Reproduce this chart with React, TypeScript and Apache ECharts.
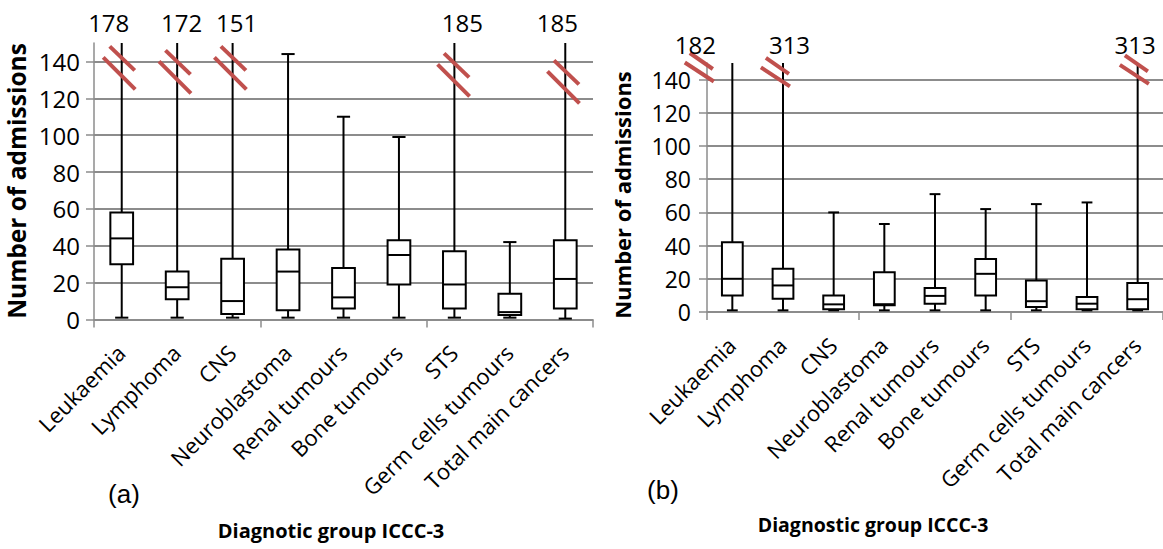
import React, { useEffect, useRef } from "react";
import * as echarts from "echarts";

const categories = [
  "Leukaemia",
  "Lymphoma",
  "CNS",
  "Neuroblastoma",
  "Renal tumours",
  "Bone tumours",
  "STS",
  "Germ cells tumours",
  "Total main cancers",
];

const AXIS_MAX = 150;
const AXIS_INTERVAL = 20;

// Panel (a)
const minA = [1, 1, 1, 1, 1, 1, 1, 1, 0.5];
const q1A = [30, 11, 3, 5, 6, 19, 6, 2.4, 6];
const medA = [44, 17.5, 10, 26, 12, 35, 19, 4, 22];
const q3A = [58, 26, 33, 38, 28, 43, 37, 14, 43];
const maxA = [178, 172, 151, 144, 110, 99, 185, 42, 185];
// where the axis break marks sit (data units), null = no break
const breakA = [137.6, 135.4, 137.6, null, null, null, 133.8, null, 130];

// Panel (b)
const minB = [1, 1, 1, 1, 1, 1, 1, 1, 1];
const q1B = [10, 8, 1.6, 4, 5, 10, 3, 1.6, 1.6];
const medB = [20, 16, 4.6, 4.7, 9.7, 23, 6.5, 5, 7.7];
const q3B = [42, 26, 10, 24, 14.5, 32, 19, 9, 17.5];
const maxB = [182, 313, 60, 53, 71, 62, 65, 66, 313];
const breakB = [147.9, 145, null, null, null, null, null, null, 146.5];

// layout-only tweaks (pixels)
const labelShiftA = [-13, 4.5, 4, 0, 0, 0, 8, 0, -8];
const labelShiftB = [-37, 6.5, 0, 0, 0, 0, 0, 0, -2.5];
const breakShiftA = [-1, -0.7, -0.7, 0, 0, 0, 0.7, 0, -0.3];
const breakShiftB = [-32, -6.6, 0, 0, 0, 0, 0, 0, -2.3];

const FONT = "'Open Sans', 'Noto Sans', sans-serif";
const GRID_COLOR = "#8c8c8c";
const BREAK_COLOR = "#c0504d";

type SlashGeom = {
  lowHalf: [number, number];
  lowOff: [number, number];
  upHalf: [number, number];
  upOff: [number, number];
};

const slashA: SlashGeom = {
  lowHalf: [16, 16],
  lowOff: [-1.5, 7.5],
  upHalf: [12.5, 12],
  upOff: [1.5, -7.5],
};
const slashB: SlashGeom = {
  lowHalf: [14.5, 9.5],
  lowOff: [-1, 5.5],
  upHalf: [11.5, 8],
  upOff: [1, -5.5],
};

function makeRenderItem(
  breaks: (number | null)[],
  labelShift: number[],
  breakShift: number[],
  slash: SlashGeom,
  labelGap: number,
  capRatio: number
) {
  return (params: any, api: any) => {
    const i = api.value(0);
    const mn = api.value(1);
    const q1 = api.value(2);
    const med = api.value(3);
    const q3 = api.value(4);
    const mx = api.value(5);
    const broken = mx > AXIS_MAX;
    const top = Math.min(mx, AXIS_MAX);
    const [cx, yMin] = api.coord([i, mn]);
    const yQ1 = api.coord([i, q1])[1];
    const yMed = api.coord([i, med])[1];
    const yQ3 = api.coord([i, q3])[1];
    const yTop = api.coord([i, top])[1];
    const yZero = api.coord([i, 0])[1];
    const band = api.size([1, 0])[0];
    const boxW = band * 0.41;
    const capW = boxW * capRatio;
    const black = { stroke: "#000", lineWidth: 2 };
    const children: any[] = [
      { type: "line", shape: { x1: cx, y1: yTop, x2: cx, y2: yQ3 }, style: black },
      { type: "line", shape: { x1: cx, y1: yQ1, x2: cx, y2: yMin }, style: black },
      {
        type: "line",
        shape: { x1: cx - capW / 2, y1: yMin, x2: cx + capW / 2, y2: yMin },
        style: black,
      },
    ];
    if (!broken) {
      children.push({
        type: "line",
        shape: { x1: cx - capW / 2, y1: yTop, x2: cx + capW / 2, y2: yTop },
        style: black,
      });
    }
    children.push({
      type: "rect",
      shape: { x: cx - boxW / 2, y: yQ3, width: boxW, height: yQ1 - yQ3 },
      style: { fill: "#fff", stroke: "#000", lineWidth: 2 },
    });
    children.push({
      type: "line",
      shape: { x1: cx - boxW / 2, y1: yMed, x2: cx + boxW / 2, y2: yMed },
      style: black,
    });
    const b = breaks[i];
    if (broken && b != null) {
      const ax = cx + breakShift[i];
      const ay = api.coord([i, b])[1];
      const seg = (half: [number, number], off: [number, number]) => ({
        type: "line",
        shape: {
          x1: ax + off[0] - half[0],
          y1: ay + off[1] - half[1],
          x2: ax + off[0] + half[0],
          y2: ay + off[1] + half[1],
        },
        style: { stroke: BREAK_COLOR, lineWidth: 4 },
      });
      children.push(seg(slash.lowHalf, slash.lowOff));
      children.push(seg(slash.upHalf, slash.upOff));
    }
    if (broken) {
      children.push({
        type: "text",
        style: {
          text: String(mx),
          x: cx + labelShift[i],
          y: yTop - labelGap,
          fill: "#000",
          fontSize: 24,
          fontFamily: FONT,
          align: "center",
          verticalAlign: "middle",
        },
      });
    }
    // rotated category label
    children.push({
      type: "text",
      x: cx - 1,
      y: yZero + 29,
      rotation: Math.PI / 4,
      style: {
        text: categories[i],
        fill: "#000",
        fontSize: 22,
        fontFamily: FONT,
        align: "right",
        verticalAlign: "middle",
      },
    });
    return { type: "group", children };
  };
}

function buildData(mn: number[], q1: number[], med: number[], q3: number[], mx: number[]) {
  return categories.map((_, i) => [i, mn[i], q1[i], med[i], q3[i], mx[i]]);
}

function xAxisCfg(gridIndex: number) {
  return {
    type: "category",
    gridIndex,
    data: categories,
    boundaryGap: true,
    axisLine: { show: true, lineStyle: { color: GRID_COLOR, width: 1.5 } },
    axisTick: { show: true, length: 8, lineStyle: { color: GRID_COLOR, width: 1.5 } },
    axisLabel: { show: false },
    splitLine: { show: false },
  };
}

function yAxisCfg(gridIndex: number, fontSize: number, margin: number) {
  return {
    type: "value",
    gridIndex,
    min: 0,
    max: AXIS_MAX,
    interval: AXIS_INTERVAL,
    axisLine: { show: true, lineStyle: { color: GRID_COLOR, width: 1.5 } },
    axisTick: { show: true, length: 8, lineStyle: { color: GRID_COLOR, width: 1.5 } },
    axisLabel: {
      fontSize,
      color: "#000",
      fontFamily: FONT,
      margin,
      showMaxLabel: false,
    },
    splitLine: {
      show: true,
      showMaxLine: false,
      lineStyle: { color: GRID_COLOR, width: 1.8 },
    },
  };
}

export default function App() {
  const ref = useRef<HTMLDivElement>(null);
  useEffect(() => {
    if (!ref.current) return;
    const chart = echarts.init(ref.current, null, { renderer: "svg" });
    chart.setOption({
      animation: false,
      backgroundColor: "#fff",
      grid: [
        { left: 94, top: 43, width: 499, height: 276.5, containLabel: false },
        { left: 707, top: 63, width: 462, height: 249, containLabel: false },
      ],
      xAxis: [xAxisCfg(0), xAxisCfg(1)],
      yAxis: [yAxisCfg(0, 24, 14), yAxisCfg(1, 23, 16)],
      series: [
        {
          type: "custom",
          xAxisIndex: 0,
          yAxisIndex: 0,
          clip: false,
          encode: { x: 0, y: [1, 2, 3, 4, 5] },
          data: buildData(minA, q1A, medA, q3A, maxA),
          renderItem: makeRenderItem(breakA, labelShiftA, breakShiftA, slashA, 21, 0.58),
        },
        {
          type: "custom",
          xAxisIndex: 1,
          yAxisIndex: 1,
          clip: false,
          encode: { x: 0, y: [1, 2, 3, 4, 5] },
          data: buildData(minB, q1B, medB, q3B, maxB),
          renderItem: makeRenderItem(breakB, labelShiftB, breakShiftB, slashB, 19, 0.52),
        },
      ],
      graphic: [
        {
          type: "text",
          x: 16,
          y: 181,
          rotation: Math.PI / 2,
          style: {
            text: "Number of admissions",
            fontSize: 24.5,
            fontWeight: "bold",
            fontFamily: FONT,
            fill: "#000",
            align: "center",
            verticalAlign: "middle",
          },
        },
        {
          type: "text",
          x: 622,
          y: 195,
          rotation: Math.PI / 2,
          style: {
            text: "Number of admissions",
            fontSize: 22,
            fontWeight: "bold",
            fontFamily: FONT,
            fill: "#000",
            align: "center",
            verticalAlign: "middle",
          },
        },
        {
          type: "text",
          x: 331,
          y: 530,
          style: {
            text: "Diagnotic group ICCC-3",
            fontSize: 20,
            fontWeight: "bold",
            fontFamily: FONT,
            fill: "#000",
            align: "center",
            verticalAlign: "middle",
          },
        },
        {
          type: "text",
          x: 873,
          y: 524,
          style: {
            text: "Diagnostic group ICCC-3",
            fontSize: 19.5,
            fontWeight: "bold",
            fontFamily: FONT,
            fill: "#000",
            align: "center",
            verticalAlign: "middle",
          },
        },
        {
          type: "text",
          x: 124,
          y: 494,
          style: {
            text: "(a)",
            fontSize: 26,
            fontFamily: "'Liberation Sans', Arial, sans-serif",
            fill: "#000",
            align: "center",
            verticalAlign: "middle",
          },
        },
        {
          type: "text",
          x: 663,
          y: 490,
          style: {
            text: "(b)",
            fontSize: 26,
            fontFamily: "'Liberation Sans', Arial, sans-serif",
            fill: "#000",
            align: "center",
            verticalAlign: "middle",
          },
        },
      ],
    });
    return () => chart.dispose();
  }, []);
  return (
    <div
      ref={ref}
      style={{ position: "absolute", left: 0, top: 0, width: 1163, height: 549, background: "#fff" }}
    />
  );
}
